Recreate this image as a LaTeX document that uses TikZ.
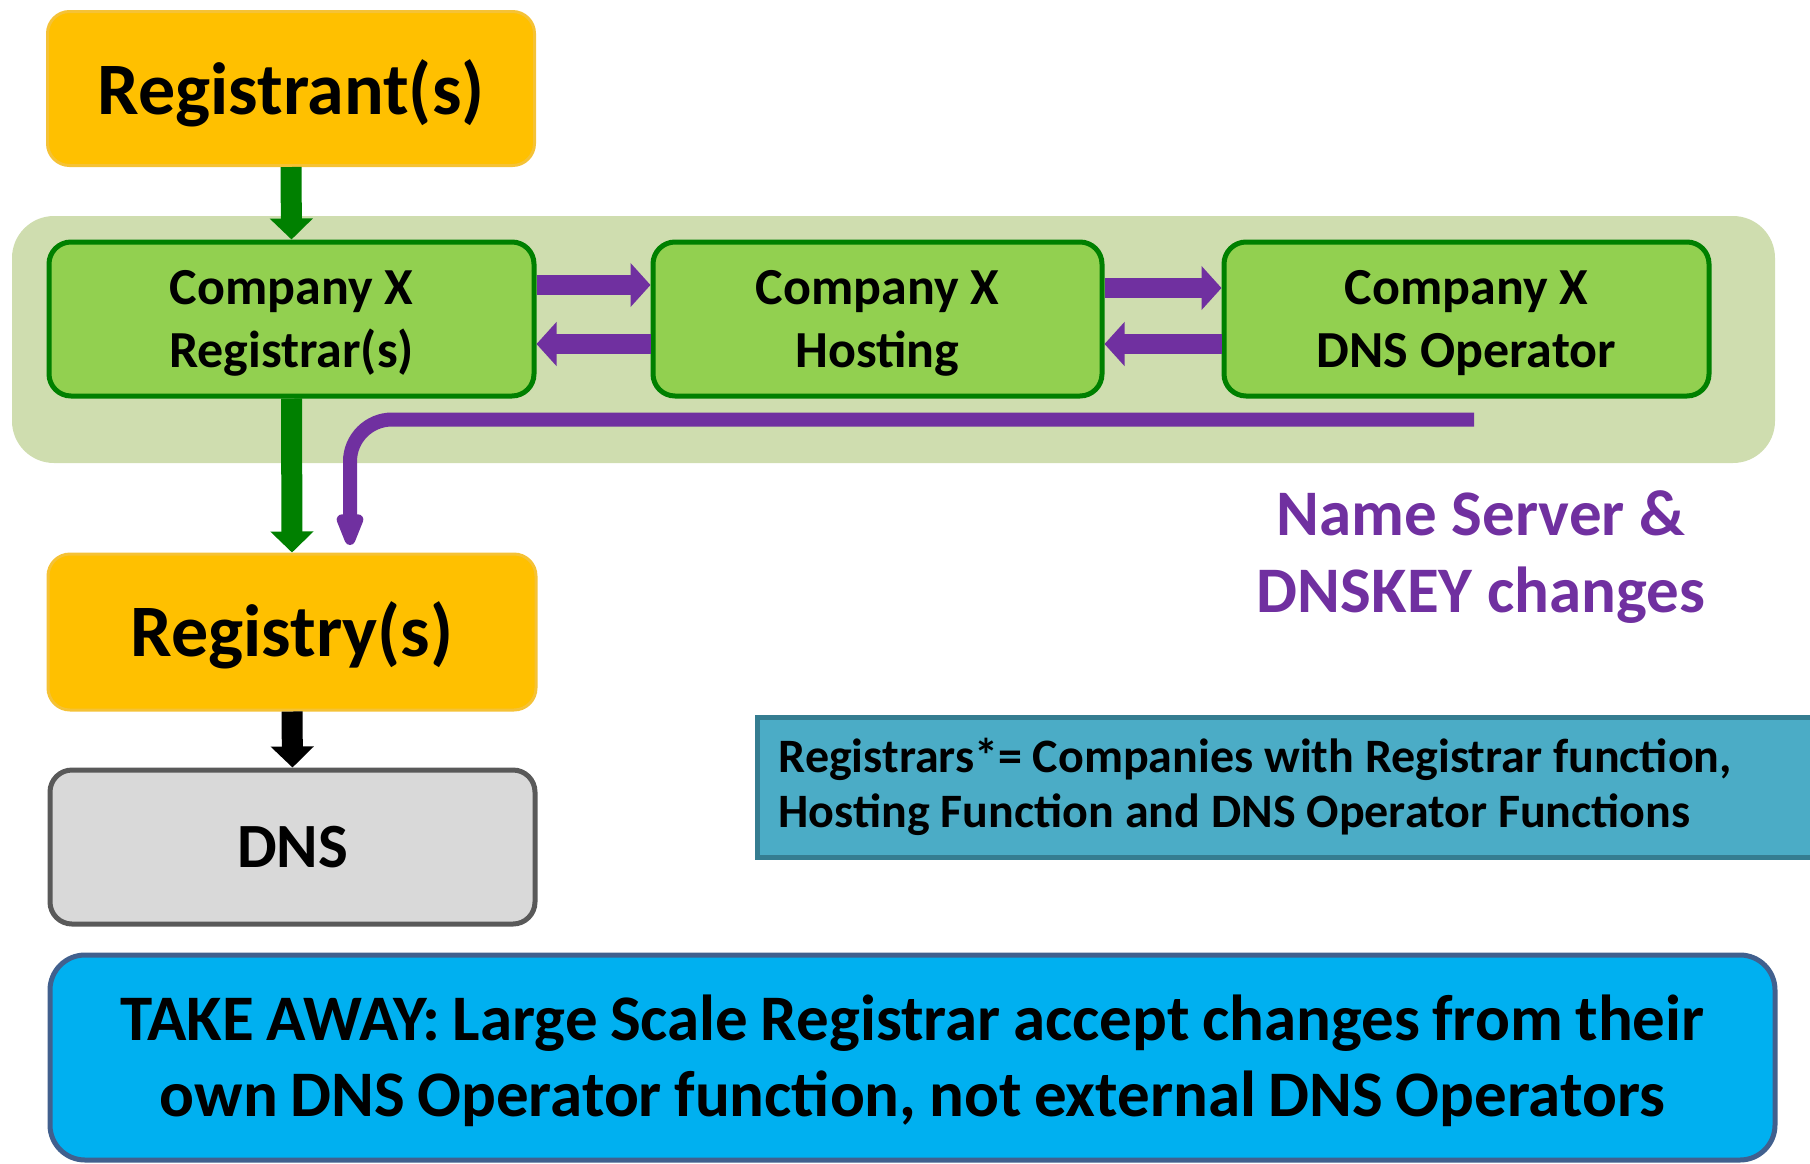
\documentclass[tikz,border=0pt]{standalone}
\usepackage{fontspec}
\setmainfont{Carlito}
\newfontfamily\condfont{Carlito}[WordSpace=0.85]
\usetikzlibrary{arrows.meta}
\definecolor{orF}{HTML}{FFC000}
\definecolor{orD}{HTML}{F5C236}
\definecolor{grF}{HTML}{92D050}
\definecolor{grD}{HTML}{008000}
\definecolor{panelC}{HTML}{CFDDAF}
\definecolor{pur}{HTML}{7030A0}
\definecolor{gyF}{HTML}{D9D9D9}
\definecolor{gyD}{HTML}{595959}
\definecolor{tlF}{HTML}{4BACC6}
\definecolor{tlD}{HTML}{357D91}
\definecolor{blF}{HTML}{00B0F0}
\definecolor{blD}{HTML}{41608E}
\newcommand\lowr[2]{\raisebox{-#1}[\height][\depth]{#2}}
\begin{document}
\begin{tikzpicture}[x=1pt,y=-1pt,
  box/.style={rounded corners=22pt, inner sep=0pt, align=center, font=\bfseries},
  orbox/.style={box, fill=orF, draw=orD, line width=3pt, minimum width=487pt, minimum height=154pt,
    font=\bfseries\fontsize{74}{80}\selectfont},
  grbox/.style={box, fill=grF, draw=grD, line width=5pt, minimum height=154pt,
    font=\bfseries\fontsize{52}{63}\selectfont},
  gybox/.style={box, fill=gyF, draw=gyD, line width=5pt, minimum width=485pt, minimum height=154pt,
    font=\bfseries\fontsize{63}{70}\selectfont},
  garrow/.style={draw=grD, line width=21pt, -{Triangle[width=42pt,length=21pt]}},
  karrow/.style={draw=black, line width=21pt, -{Triangle[width=42pt,length=21pt]}},
  parrow/.style={draw=pur, line width=20pt, -{Triangle[width=43pt,length=20pt]}},
  nsarrow/.style={draw=pur, line width=14pt, rounded corners=42pt, -{Triangle[width=28pt,length=42pt,round]}},
  nstext/.style={text=pur, font=\bfseries\fontsize{65}{77}\selectfont, anchor=base, inner sep=0pt}
]
\useasboundingbox (0,0) rectangle (1810,1163);

% background panel
\node[fill=panelC, rounded corners=42pt, minimum width=1763pt, minimum height=247pt, inner sep=0pt] (panel) at (893.5,339.5) {};

% boxes
\node[orbox] (registrant) at (291,88.5) {\lowr{5pt}{Registrant(s)}};
\node[grbox, minimum width=485pt] (registrar) at (291.5,319) {\lowr{4pt}{Company X}\\\lowr{4pt}{Registrar(s)}};
\node[grbox, minimum width=449pt] (hosting) at (877.5,319) {\lowr{4pt}{Company X}\\\lowr{4pt}{Hosting}};
\node[grbox, minimum width=485pt] (dnsop) at (1466.5,319) {\lowr{4pt}{Company X}\\\lowr{4pt}{DNS Operator}};
\node[orbox, minimum width=488pt, minimum height=156pt] (registry) at (292,632) {\lowr{3pt}{Registry(s)}};
\node[gybox] (dns) at (292.5,847) {DNS};

% vertical arrows
\draw[garrow] (registrant.south) -- (registrar.north);
\draw[garrow] (registrar.south) -- (registry.north);
\draw[karrow] (registry.south) -- (dns.north);

% horizontal purple arrows
\draw[parrow] ([yshift=34pt]registrar.east) -- ([yshift=34pt]hosting.west);
\draw[parrow] ([yshift=-25pt]hosting.west) -- ([yshift=-25pt]registrar.east);
\draw[parrow] ([yshift=31pt]hosting.east) -- ([yshift=31pt]dnsop.west);
\draw[parrow] ([yshift=-25pt]dnsop.west) -- ([yshift=-25pt]hosting.east);

% name server change path
\coordinate (nsA) at (1474,419.5);
\coordinate (nsB) at (350,545);
\draw[nsarrow] (nsA) -| (nsB);

\node[nstext] (ns1) at (1481,535) {Name Server \&};
\node[nstext] (ns2) at (1481,612) {DNSKEY changes};

% note box
\node[fill=tlF, draw=tlD, line width=5pt, minimum width=1073pt, minimum height=140pt, inner sep=0pt] (note) at (1293.5,787) {};
\node[anchor=west, inner sep=0pt, align=left,
  font=\bfseries\fontsize{48}{55}\selectfont] (notetext) at ([xshift=24pt]note.west)
  {Registrars*= Companies with Registrar function,\\Hosting Function and DNS Operator Functions};

% take away box
\node[fill=blF, draw=blD, line width=5pt, rounded corners=35pt, minimum width=1725pt, minimum height=205pt,
  inner sep=0pt, align=center, font=\condfont\bfseries\fontsize{65}{76}\selectfont] (takeaway) at (912.5,1057.5)
  {\lowr{3pt}{TAKE AWAY: Large Scale Registrar accept changes from their}\\\lowr{3pt}{own DNS Operator function, not external DNS Operators}};
\end{tikzpicture}
\end{document}
